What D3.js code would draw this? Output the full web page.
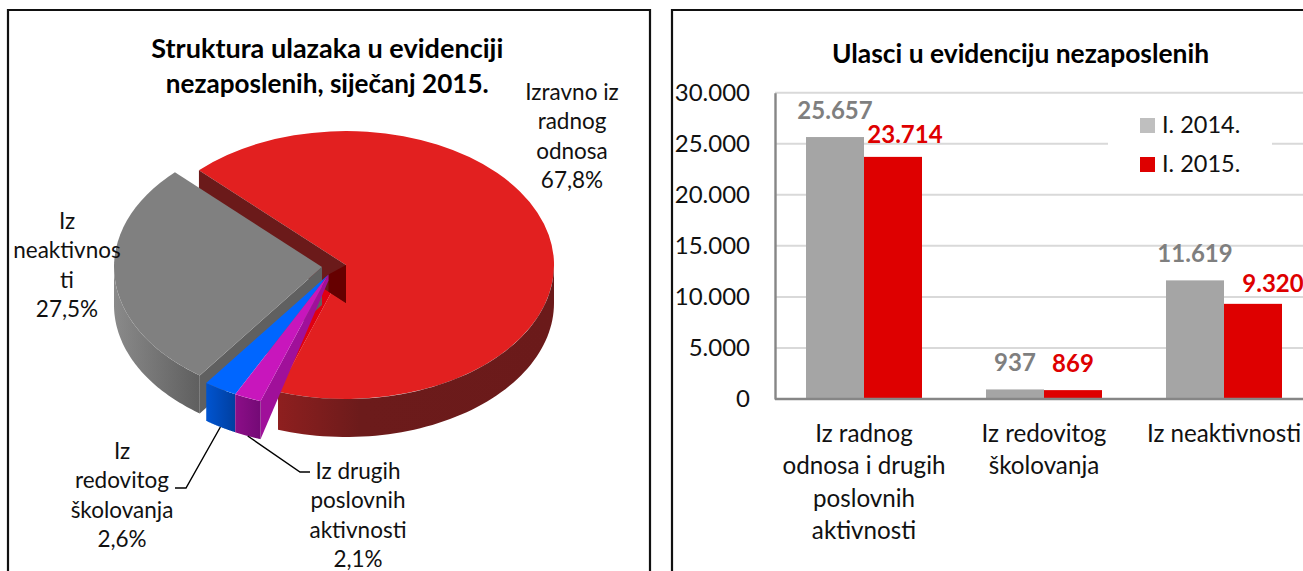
<!DOCTYPE html>
<html><head><meta charset="utf-8">
<script src="https://cdn.jsdelivr.net/npm/d3@7"></script>
<style>
html,body{margin:0;padding:0;background:#fff;overflow:hidden}
svg{display:block}
text{font-family:Lato,"Open Sans",sans-serif;fill:#111}
</style></head><body>
<svg id="c" width="1303" height="571"></svg>
<script>
// ---- data ----
const pieTitle = ["Struktura ulazaka u evidenciji", "nezaposlenih, siječanj 2015."];
const pieNames = ["Izravno iz radnog odnosa", "Iz drugih poslovnih aktivnosti", "Iz redovitog školovanja", "Iz neaktivnosti"];
const pieValues = [67.8, 2.1, 2.6, 27.5];
const pieValueLabels = ["67,8%", "2,1%", "2,6%", "27,5%"];
const pieLabelLines = [["Izravno iz", "radnog", "odnosa"], ["Iz drugih", "poslovnih", "aktivnosti"], ["Iz", "redovitog", "školovanja"], ["Iz", "neaktivnos", "ti"]];
const barTitle = "Ulasci u evidenciju nezaposlenih";
const barCategories = ["Iz radnog odnosa i drugih poslovnih aktivnosti", "Iz redovitog školovanja", "Iz neaktivnosti"];
const barCategoryLines = [["Iz radnog", "odnosa i drugih", "poslovnih", "aktivnosti"], ["Iz redovitog", "školovanja"], ["Iz neaktivnosti"]];
const seriesNames = ["I. 2014.", "I. 2015."];
const values2014 = [25657, 937, 11619];
const values2015 = [23714, 869, 9320];
const yTicks = [0, 5000, 10000, 15000, 20000, 25000, 30000];

// ---- setup ----
const svg = d3.select("#c");
const defs = svg.append("defs");
function grad(id, stops){
  const g = defs.append("linearGradient").attr("id", id);
  stops.forEach(s => g.append("stop").attr("offset", s[0]).attr("stop-color", s[1]));
}
grad("gRed", [[0,"#8e1f1f"],[0.3,"#6c1b1b"],[1,"#6b1a1a"]]);
grad("gGrey", [[0,"#8a8a8a"],[1,"#5f5f5f"]]);
grad("gBlue", [[0,"#0054d0"],[1,"#003fa0"]]);
grad("gPurple", [[0,"#8c0e88"],[1,"#740a76"]]);

// frames
const frameColor = "#111";
[[8,10,642],[672,10,640]].forEach(f => {
  svg.append("path").attr("fill","none").attr("stroke",frameColor).attr("stroke-width",2.2)
    .attr("d", `M${f[0]},575V${f[1]}H${f[0]+f[2]}V575`);
});

function multi(g, lines, x, y0, lh, size, weight, fill, widths){
  lines.forEach((t,i) => {
    const n = g.append("text").attr("x",x).attr("y",y0+i*lh)
      .attr("text-anchor","middle").attr("font-size",size).attr("font-weight",weight||400)
      .style("fill",fill||"#111").text(t);
    if(widths) n.attr("textLength",widths[i]).attr("lengthAdjust","spacingAndGlyphs");
  });
}

// ---- 3D pie ----
const P = {cx:346, cy:265, rx:208, ry:134, depth:38};
const explode = [[0,0],[-17.5,9.5],[-17.5,9.5],[-24,2]];
const tops = ["#e22020","#c816bc","#0066ff","#808080"];
const walls = ["url(#gRed)","url(#gPurple)","url(#gBlue)","url(#gGrey)"];
const slices = d3.pie().sort(null).startAngle(-Math.PI/4).endAngle(Math.PI*7/4)(pieValues);
const arcGen = d3.arc().innerRadius(0).outerRadius(1);
const rim = (a,o) => [P.cx+o[0]+Math.sin(a)*P.rx, P.cy+o[1]-Math.cos(a)*P.ry];
const apex = o => [P.cx+o[0], P.cy+o[1]];
const down = (p,d) => [p[0], p[1]+(d===undefined?P.depth:d)];
const line = d3.line();
const poly = pts => line(pts)+"Z";
const pg = svg.append("g");

function drawTop(i){
  const o = explode[i];
  pg.append("path").attr("d",arcGen(slices[i]))
    .attr("transform",`translate(${P.cx+o[0]},${P.cy+o[1]}) scale(${P.rx},${P.ry})`)
    .attr("fill",tops[i]);
}
function drawOuter(i){
  const o = explode[i], s = slices[i];
  const a0 = Math.max(s.startAngle, Math.PI/2), a1 = Math.min(s.endAngle, Math.PI*3/2);
  if(a1<=a0) return;
  const as = d3.range(0,61).map(k => a0+(a1-a0)*k/60);
  const up = as.map(a => rim(a,o));
  const dn = as.map(a => down(rim(a,o))).reverse();
  pg.append("path").attr("d",poly(up.concat(dn))).attr("fill",walls[i]);
}
function drawRadial(i, angle, fill, innerDepth){
  const o = explode[i], c = apex(o), r = rim(angle,o);
  pg.append("path").attr("d",poly([c,r,down(r),down(c,innerDepth)])).attr("fill",fill);
}
const redStart = slices[0].startAngle, redEnd = slices[0].endAngle;
const purpleApex = apex(explode[1]);

// red slice
drawTop(0);
pg.append("path").attr("d",poly([apex(explode[0]),rim(redEnd,explode[0]),purpleApex])).attr("fill","#e00010");
drawOuter(0);
drawRadial(0, redStart, "#6b1a1a");
// deep part of the back wall near the centre
{
  const c = apex(explode[0]), r = rim(redStart,explode[0]);
  const t = (c[0]-purpleApex[0])/(c[0]-r[0]);
  const low = [purpleApex[0], c[1]+P.depth+(r[1]-c[1])*t];
  pg.append("path").attr("d",poly([c,down(c),low,purpleApex])).attr("fill","#660000");
}
// grey slice
drawRadial(3, slices[3].startAngle, "#606060");
drawOuter(3);
drawTop(3);
// blue slice
drawOuter(2);
drawTop(2);
// purple slice
drawRadial(1, slices[1].startAngle, "#a0109a", 6);
drawOuter(1);
drawTop(1);

// pie title
multi(svg, pieTitle, 327.3, 58, 35, 27.5, 700, "#000", [352,323]);

// leader lines (blue, purple)
const leaderColor = "#000";
function leader(i, frac, mid, end, under){
  const o = explode[i], s = slices[i];
  const p = down(rim(s.startAngle+(s.endAngle-s.startAngle)*frac,o), under);
  pg.append("path").attr("fill","none").attr("stroke",leaderColor).attr("stroke-width",1.4)
    .attr("d",line([p,mid,end]));
}
leader(2, 0.5, [186,488], [175,488], 38);
leader(1, 0.5, [300,472], [310,472], 38);

// pie labels
const labelAnchors = [[572,100],[358,479],[122,459],[67,229]];
pieLabelLines.forEach((ls,i) => {
  multi(svg, ls.concat(pieValueLabels[i]), labelAnchors[i][0], labelAnchors[i][1], 29.4, 22.5);
});

// ---- bars ----
const B = {left:774, right:1314, base:399, top:92.7};
const y = d3.scaleLinear().domain([0,30000]).range([B.base,B.top]);
const x0 = d3.scaleBand().domain(barCategories).range([B.left,B.right]).paddingInner(0.3556).paddingOuter(0.1778);
const x1 = d3.scaleBand().domain(seriesNames).range([0,x0.bandwidth()]);
const series = [values2014, values2015];
const barFill = ["#a5a5a5","#de0000"], labelFill = ["#7f7f7f","#de0000"], legendFill = ["#bfbfbf","#de0000"];
const nf = d3.formatLocale({decimal:",",thousands:".",grouping:[3],currency:["",""]}).format(",");

const bg = svg.append("g");
bg.selectAll("line.grid").data(yTicks.filter(d=>d>0)).join("line")
  .attr("x1",775).attr("x2",1303).attr("y1",d=>y(d)).attr("y2",d=>y(d))
  .attr("stroke","#d9d9d9").attr("stroke-width",2);

series.forEach((vals,s) => {
  bg.selectAll("rect.s"+s).data(vals).join("rect").attr("class","s"+s)
    .attr("x",(d,i)=>x0(barCategories[i])+x1(seriesNames[s]))
    .attr("width",x1.bandwidth())
    .attr("y",d=>y(d)).attr("height",d=>B.base-y(d))
    .attr("fill",barFill[s]);
});

// axes
const yAxis = d3.axisLeft(y).tickValues(yTicks).tickSize(0).tickPadding(25).tickFormat(nf);
const yG = svg.append("g").attr("transform","translate(775,0)").call(yAxis);
yG.select(".domain").attr("stroke","#868686").attr("stroke-width",2.4);
yG.selectAll("text").attr("font-size",24).style("fill","#111").style("font-family","Lato");

const xAxis = d3.axisBottom(x0).tickSize(0).tickFormat("");
const xG = svg.append("g").attr("transform",`translate(0,${B.base})`).call(xAxis);
xG.select(".domain").attr("stroke","#868686").attr("stroke-width",2.6).attr("d","M775,0H1303");
barCategories.forEach((c,i) => {
  multi(svg, barCategoryLines[i], x0(c)+x0.bandwidth()/2, 442, 32.4, 24.2);
});

// value labels
const labelLift = [[27,27,27],[22,27,20]], labelShift = [[0,0,0],[12,0,20]];
series.forEach((vals,s) => vals.forEach((v,i) => {
  svg.append("text")
    .attr("x",x0(barCategories[i])+x1(seriesNames[s])+x1.bandwidth()/2+labelShift[s][i])
    .attr("y",y(v)-labelLift[s][i]+8.5)
    .attr("text-anchor","middle").attr("font-size",24).attr("font-weight",700)
    .style("fill",labelFill[s]).text(nf(v));
}));

// bar title
multi(svg, [barTitle], 1020.5, 63, 0, 26.4, 700, "#000");

// legend
svg.append("rect").attr("x",1108).attr("y",104).attr("width",164).attr("height",80).attr("fill","#fff");
seriesNames.forEach((n,i) => {
  const ly = 125.5+i*39;
  svg.append("rect").attr("x",1140).attr("y",ly-7.5).attr("width",15).attr("height",15).attr("fill",legendFill[i]);
  svg.append("text").attr("x",1162).attr("y",ly+7.5).attr("font-size",23.5).style("fill","#111").text(n);
});
</script>
</body></html>
